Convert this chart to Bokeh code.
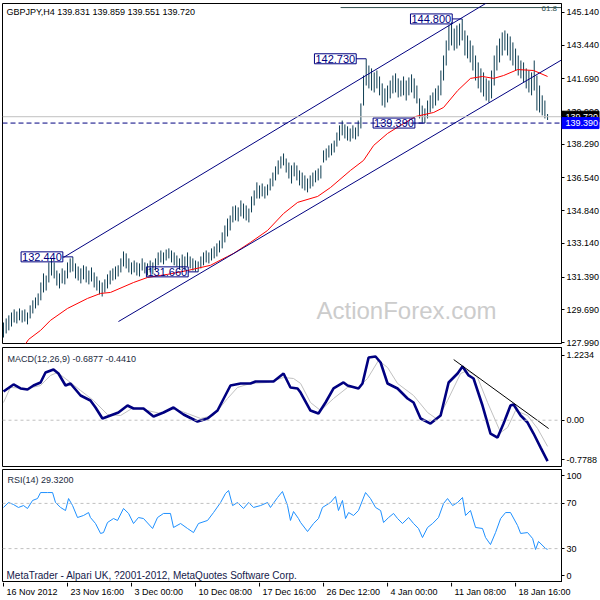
from bokeh.plotting import figure
from bokeh.layouts import column
from bokeh.models import Range1d, FixedTicker, PrintfTickFormatter, Label, Span
from bokeh.core.properties import value
from bokeh.embed import file_html
from bokeh.resources import INLINE

# ---------------- data ----------------
header_text = "GBPJPY,H4  139.831 139.859 139.551 139.720"
macd_text = "MACD(12,26,9) -0.6877 -0.4410"
rsi_text = "RSI(14) 29.3200"
copyright_text = "MetaTrader - Alpari UK, ?2001-2012, MetaQuotes Software Corp."
watermark_text = "ActionForex.com"
fib_text = "61.8"

bar_high = [129.03,129.24,129.40,129.55,129.71,129.60,129.76,129.66,129.71,129.55,
 129.92,130.18,130.33,130.54,131.11,131.58,131.47,132.15,132.36,132.15,
 131.73,131.58,131.84,131.73,132.15,132.36,132.44,132.10,131.94,131.84,
 132.00,131.94,131.73,131.89,131.63,131.42,131.21,131.11,131.27,131.53,
 131.73,131.84,131.94,132.00,132.36,132.72,132.62,132.36,132.15,132.25,
 132.15,132.10,132.36,132.15,132.10,132.25,132.15,132.36,132.67,132.77,
 132.67,132.82,132.88,132.77,132.67,132.51,132.36,132.56,132.46,132.67,
 132.46,132.36,132.25,132.20,132.46,132.67,132.77,132.67,132.88,132.98,
 133.14,133.29,133.71,134.07,134.43,134.59,135.06,135.11,135.01,135.37,
 135.21,135.11,134.95,135.58,135.89,136.31,136.15,136.25,136.10,136.20,
 136.51,136.82,137.14,137.45,137.66,137.81,137.55,137.34,137.19,137.34,
 137.19,136.93,136.82,136.67,136.51,136.67,136.82,136.93,137.03,137.19,
 137.97,138.07,138.23,138.33,138.48,138.90,139.27,139.52,139.32,139.22,
 139.11,139.27,139.16,139.52,140.41,141.86,142.73,142.38,142.23,142.02,
 142.12,141.81,141.45,141.19,141.34,141.60,141.86,141.97,141.71,141.60,
 141.81,141.60,141.76,141.92,141.71,141.34,140.67,140.30,140.15,140.56,
 140.83,140.98,141.19,141.34,142.12,142.90,143.68,144.46,144.62,144.30,
 144.46,144.56,144.80,144.20,143.94,143.68,143.42,142.90,142.54,142.23,
 142.02,141.71,141.60,142.12,142.90,143.42,143.78,144.10,144.20,144.04,
 143.89,143.58,143.26,142.90,142.64,142.54,142.23,142.12,142.02,142.64,
 141.86,141.34,140.83,140.56,139.86]

bar_low = [128.25,128.46,128.62,128.82,129.03,128.98,129.14,129.03,129.08,128.93,
 129.24,129.50,129.76,129.92,130.18,130.59,130.69,131.11,131.47,131.32,
 130.95,130.80,131.06,131.01,131.32,131.63,131.68,131.32,131.21,131.06,
 131.27,131.11,131.01,131.16,130.85,130.69,130.49,130.38,130.59,130.80,
 131.01,131.21,131.27,131.42,131.63,131.94,131.84,131.63,131.53,131.63,
 131.47,131.42,131.73,131.58,131.47,131.63,131.53,131.73,132.00,132.15,
 132.05,132.25,132.36,132.15,132.00,131.94,131.79,131.84,131.73,131.94,
 131.84,131.73,131.68,131.66,131.84,132.00,132.15,132.10,132.25,132.36,
 132.46,132.67,132.88,133.19,133.50,133.81,134.23,134.33,134.28,134.54,
 134.43,134.33,134.23,134.75,135.11,135.47,135.47,135.58,135.47,135.63,
 135.89,136.10,136.41,136.72,137.03,137.19,136.82,136.51,136.25,136.62,
 136.41,136.15,135.99,135.89,135.79,135.99,136.10,136.31,136.41,136.51,
 137.34,137.45,137.60,137.71,137.86,138.17,138.48,138.75,138.59,138.48,
 138.43,138.59,138.54,138.70,139.11,140.30,141.34,141.19,141.08,140.98,
 141.19,140.83,140.30,140.20,140.46,140.67,140.93,140.98,140.72,140.77,
 140.83,140.56,140.83,140.98,140.67,140.41,139.63,139.42,139.39,139.63,
 139.94,140.15,140.30,140.56,140.83,141.60,142.38,143.16,143.42,143.16,
 143.26,143.42,143.68,142.90,142.75,142.54,142.12,141.60,141.19,140.98,
 140.77,140.56,140.46,140.67,141.34,142.12,142.54,142.90,143.16,142.90,
 142.64,142.38,142.12,141.86,141.71,141.50,141.19,140.98,140.83,141.08,
 140.04,139.94,139.79,139.63,139.55]

ma_bar = [7.9,9.4,13.9,17.6,24,31.5,36.4,40.1,48.8,54,61.5,69,77.6,84,86.3,92.6,99,105,
          110.3,117.8,122.6,130.1,135,138.8,144,148.9,154.5,161.3,165,170.3,175.1,179.6,
          183.8,187.5,192.8,198.8,204]
ma_val = [127.84,128.15,128.62,129.14,129.76,130.28,130.54,130.59,131.11,131.37,131.53,
          131.73,132.00,132.46,132.62,133.19,133.81,134.69,135.27,135.58,136.04,136.93,
          137.45,138.23,138.85,139.27,139.73,139.94,140.20,141.08,141.71,141.81,141.71,
          141.86,142.17,142.12,141.81]

# channel and levels
upper_ch_bar = [22.5, 186.4]
upper_ch_val = [132.41, 146.07]
lower_ch_bar = [43.1, 210.0]
lower_ch_val = [129.08, 142.73]
fib_bar = [126.4, 209.3]
fib_val = [145.39, 145.39]
last_price = 139.72
support_level = 139.39
price_ticks = [127.99, 129.69, 131.39, 133.14, 134.84, 136.54, 138.29, 139.99, 141.69, 143.44, 145.14]

point_label_bar = [26, 73, 136, 158, 172]
point_label_val = [132.44, 131.66, 142.73, 139.39, 144.80]
point_label_txt = ["132.440", "131.660", "142.730", "139.390", "144.800"]

macd_bar = [0,3.75,6.4,9,11.25,13.9,15.75,18.75,20.6,23.25,25.1,28.9,32.6,34.5,37.1,40.1,43.1,
            46.5,48.75,52.5,56.25,60,63.75,67.5,72.75,76.5,80.25,85.1,88.9,92.6,94.5,99,101.25,
            105,107.6,110.25,111.4,115.1,118.1,120.75,123.75,127.5,129,133.1,134.6,136.9,139.5,
            141.4,144,147.75,151.5,153.75,156.4,160.1,163.9,166.9,170.25,172.1,174.4,176.25,
            179.6,182.6,185.25,187.5,190.1,191.25,193.9,196.5,198.75,201.4,204]
macd_val = [0.483,0.601,0.534,0.517,0.584,0.635,0.803,0.854,0.786,0.584,0.618,0.416,0.332,
            0.214,0.029,0.079,0.130,0.247,0.197,0.197,0.062,0.130,0.214,0.096,-0.022,0.029,
            0.163,0.584,0.618,0.618,0.652,0.652,0.652,0.786,0.551,0.534,0.466,0.163,0.113,
            0.298,0.534,0.635,0.584,0.534,0.618,1.056,1.072,0.971,0.618,0.534,0.365,0.298,
            0.029,-0.056,0.079,0.635,0.786,0.904,0.753,0.702,0.247,-0.224,-0.291,-0.056,
            0.247,0.264,0.079,-0.039,-0.224,-0.460,-0.6877]
signal_bar = [0,2.6,9,13.9,17.6,20.25,25.1,28.9,33.75,39,43.9,48.75,54,58.9,63.75,69,73.9,
              78.75,84,87.75,92.6,99,105,108.75,111.4,115.1,118.9,123.75,129,133.1,136.5,
              140.6,144,147.75,153.75,159,162.75,166.5,171.4,174,177.75,181.5,186.4,189,192,
              196.5,200.25,204]
signal_val = [0.298,0.551,0.534,0.584,0.753,0.803,0.635,0.500,0.332,0.096,0.079,0.214,0.163,
              0.113,0.197,0.113,0.029,0.079,0.365,0.551,0.618,0.635,0.719,0.702,0.618,0.298,
              0.163,0.365,0.551,0.551,0.702,1.005,0.887,0.618,0.416,0.130,0.012,0.332,0.786,
              0.837,0.719,0.298,-0.207,-0.123,0.163,0.079,-0.140,-0.441]
macd_trend_bar = [168.8, 204.4]
macd_trend_val = [1.02, -0.14]
macd_min, macd_max = -0.7788, 1.2234

rsi_bar = [0,1.9,3.75,5.6,7.5,9,10.9,12.75,13.9,16.5,18.4,19.5,21.4,23.25,24.4,25.9,27.75,30,
           31.9,32.6,34.5,36.4,37.5,39,41.25,42.75,45,46.9,48.75,50.6,52.5,55.9,57.75,60,62.6,
           63.75,66.4,69,71.25,73.1,76.5,78.75,81.4,83.25,84.4,85.9,87.75,90,91.9,93.75,96.4,
           99,100.1,102.75,104.6,106.5,107.6,108.75,110.6,111.4,114,116.25,118.1,119.6,122.6,
           124.5,125.6,127.1,128.25,129.4,131.25,133.1,135.75,137.6,139.5,141.4,142.5,144.4,
           146.25,147.75,149.6,151.9,153.75,155.6,157.1,159,160.9,163.1,165,166.5,168.4,170.25,
           172.1,173.25,175.1,177,179.6,180.75,182.6,184.5,186.4,188.25,190.1,192.75,193.9,
           196.5,198.4,199.5,200.6,203.25,204]
rsi_val = [66.4,70.8,69.0,66.4,68.1,65.5,72.6,74.3,79.6,79.6,79.6,70.8,66.4,63.7,74.3,68.1,57.5,
           59.3,61.9,57.5,52.2,43.4,44.2,53.1,56.6,54.9,65.5,61.1,52.2,57.5,56.6,47.8,57.5,61.1,
           61.1,48.7,52.2,47.8,44.2,52.2,54.9,61.9,70.8,78.8,81.4,68.1,70.8,65.5,70.8,66.4,68.1,
           70.8,66.4,75.2,80.5,68.1,54.9,62.8,56.6,53.1,45.1,52.2,56.6,66.4,70.8,76.1,63.7,72.6,
           56.6,61.9,59.3,63.7,79.6,74.3,66.4,63.7,53.1,57.5,61.1,56.6,52.2,57.5,52.2,47.8,39.8,
           48.7,52.2,57.5,69.9,74.3,68.1,70.8,75.2,59.3,63.7,48.7,47.8,39.8,33.6,44.2,56.6,61.9,
           61.9,50.4,43.4,44.2,38.9,29.2,36.3,30.1,29.32]
rsi_levels = [70, 30]

date_tick_bar = [0, 24, 48, 72, 96, 120, 144, 168, 192]
date_labels = ["16 Nov 2012", "23 Nov 16:00", "3 Dec 00:00", "10 Dec 08:00", "17 Dec 16:00",
               "26 Dec 12:00", "4 Jan 00:00", "11 Jan 08:00", "18 Jan 16:00"]

# ---------------- layout helpers (reference pixel -> data) ----------------
def ref_bar(x):
    return (x - 3) / 2.667
def ref_price(y):
    return 145.757 - y / 19.25
def ref_macd(y):
    return (419.7 - y) / 59.4
def ref_rsi(y):
    return (582 - y) / 1.13

FL, FR = 2, 561          # frame left / right (px)
FW = FR - FL
FONT = "Liberation Sans"
BAR_COLOR = "#0e3d52"
NAVY = "#000080"

XR = Range1d(ref_bar(FL), ref_bar(FR))
PXB = FW / (XR.end - XR.start)  # pixels per bar


def make_fig(frame_w, frame_h, xr, yr, top, bottom, yaxis=True):
    p = figure(frame_width=frame_w, frame_height=frame_h, x_range=xr, y_range=yr,
               x_axis_location=None, y_axis_location=("right" if yaxis else None),
               toolbar_location=None, output_backend="svg",
               min_border_left=FL, min_border_right=0, min_border_top=top, min_border_bottom=bottom,
               background_fill_color="white", border_fill_color="white",
               outline_line_color=("black" if yaxis else None))
    p.xgrid.visible = False
    p.ygrid.visible = False
    if yaxis:
        ax = p.yaxis[0]
        ax.axis_line_color = "black"
        ax.major_tick_line_color = "black"
        ax.major_tick_out = 3
        ax.major_tick_in = 0
        ax.minor_tick_line_color = None
        ax.major_label_text_font = FONT
        ax.major_label_text_font_size = "9px"
        ax.major_label_text_color = "black"
        ax.major_label_standoff = 2
    return p

# ---------------- price panel ----------------
pp = make_fig(FW, 340, XR, Range1d(ref_price(343), ref_price(3)), 3, 4)
pp.yaxis[0].ticker = FixedTicker(ticks=price_ticks)
pp.yaxis[0].formatter = PrintfTickFormatter(format="%.3f")

pp.text(x=[ref_bar(406)], y=[ref_price(310)], text=[watermark_text], text_align="center",
        text_baseline="middle", text_font=value(FONT), text_font_size="24px", text_color="#cccccc")

pp.add_layout(Span(location=last_price, dimension="width", line_color="#c0c0c0", line_width=1))
pp.add_layout(Span(location=support_level, dimension="width", line_color=NAVY, line_width=1,
                   line_dash="5 3"))

pp.line(fib_bar, fib_val, line_color="#2f4f4f", line_width=1)
pp.text(x=[ref_bar(541)], y=[ref_price(7.5)], text=[fib_text], text_align="left",
        text_baseline="alphabetic", text_font=value(FONT), text_font_size="8px",
        text_color="#2f4f4f", level="overlay")

idx = list(range(len(bar_high)))
pp.segment(x0=idx, y0=bar_low, x1=idx, y1=bar_high, line_color=BAR_COLOR, line_width=1)
pp.line(ma_bar, ma_val, line_color="#ff0000", line_width=1)
pp.line(upper_ch_bar, upper_ch_val, line_color=NAVY, line_width=1)
pp.line(lower_ch_bar, lower_ch_val, line_color=NAVY, line_width=1)

conn = 10 / PXB
for b, v, t in zip(point_label_bar, point_label_val, point_label_txt):
    pp.segment(x0=[b - conn], y0=[v], x1=[b], y1=[v], line_color=NAVY, line_width=1)
    pp.add_layout(Label(x=b - conn, y=v, text=t, text_align="right", text_baseline="middle",
                        text_font=FONT, text_font_size="11px", text_color=NAVY,
                        border_line_color=NAVY, border_line_width=1, padding=1,
                        background_fill_color=None))

pp.text(x=[ref_bar(6)], y=[ref_price(11.5)], text=[header_text], text_baseline="middle",
        text_font=value(FONT), text_font_size="9px", text_color="black")

# price boxes on the axis (drawn above the axis, outside the frame)
for lvl, txt, col in [(last_price, "139.720", "black"), (support_level, "139.390", "#0000ff")]:
    pp.rect(x=[ref_bar(580)], y=[lvl], width=37, height=11, width_units="screen",
            height_units="screen", fill_color=col, line_color=col, level="overlay")
    pp.text(x=[ref_bar(565)], y=[lvl], text=[txt], text_align="left", text_baseline="middle",
            text_font=value(FONT), text_font_size="9px", text_color="white", level="overlay")

# ---------------- MACD panel ----------------
pm = make_fig(FW, 119, XR, Range1d(macd_min, macd_max), 0, 1)
mt_top, mt_bot = ref_macd(355), ref_macd(459)
pm.yaxis[0].ticker = FixedTicker(ticks=[mt_bot, 0, mt_top])
pm.yaxis[0].major_label_overrides = {mt_top: "%.4f" % macd_max, 0: "0.00", mt_bot: "%.4f" % macd_min}
pm.add_layout(Span(location=0, dimension="width", line_color="#c0c0c0", line_width=1, line_dash="3 3"))
pm.line(signal_bar, signal_val, line_color="#c0c0c0", line_width=1)
pm.line(macd_bar, macd_val, line_color=NAVY, line_width=2.6)
pm.line(macd_trend_bar, macd_trend_val, line_color="black", line_width=1)
pm.text(x=[ref_bar(7)], y=[ref_macd(358.5)], text=[macd_text], text_baseline="middle",
        text_font=value(FONT), text_font_size="9px", text_color="#1b2a3e")

# ---------------- RSI panel ----------------
pr = make_fig(FW, 113, XR, Range1d(0, 100), 2, 0)
rt_top, rt_bot = ref_rsi(475), ref_rsi(575)
pr.yaxis[0].ticker = FixedTicker(ticks=[rt_bot, 30, 70, rt_top])
pr.yaxis[0].major_label_overrides = {rt_top: "100", 30: "30", 70: "70", rt_bot: "0"}
for lv in rsi_levels:
    pr.add_layout(Span(location=lv, dimension="width", line_color="#c0c0c0", line_width=1,
                       line_dash="3 3"))
pr.line(rsi_bar, rsi_val, line_color="#1e90ff", line_width=1)
pr.text(x=[ref_bar(7)], y=[ref_rsi(479)], text=[rsi_text], text_baseline="middle",
        text_font=value(FONT), text_font_size="9px", text_color="#1b2a3e")
pr.text(x=[ref_bar(6)], y=[ref_rsi(574.5)], text=[copyright_text], text_baseline="middle",
        text_font=value(FONT), text_font_size="10px", text_color="#14204a")

# ---------------- date axis ----------------
DW = 597
pd_ = make_fig(DW - FL, 15, Range1d(ref_bar(FL), ref_bar(DW)), Range1d(0, 1), 0, 0, yaxis=False)
pd_.segment(x0=date_tick_bar, y0=[1] * len(date_tick_bar), x1=date_tick_bar,
            y1=[1 - 4 / 15] * len(date_tick_bar), line_color="black", line_width=1)
pd_.text(x=date_tick_bar, y=[1 - 9 / 15] * len(date_tick_bar), text=date_labels, x_offset=3,
         text_align="left", text_baseline="middle", text_font=value(FONT),
         text_font_size="9px", text_color="black")

layout = column(pp, pm, pr, pd_, spacing=0)
open("out.html", "w").write(file_html(layout, INLINE))
